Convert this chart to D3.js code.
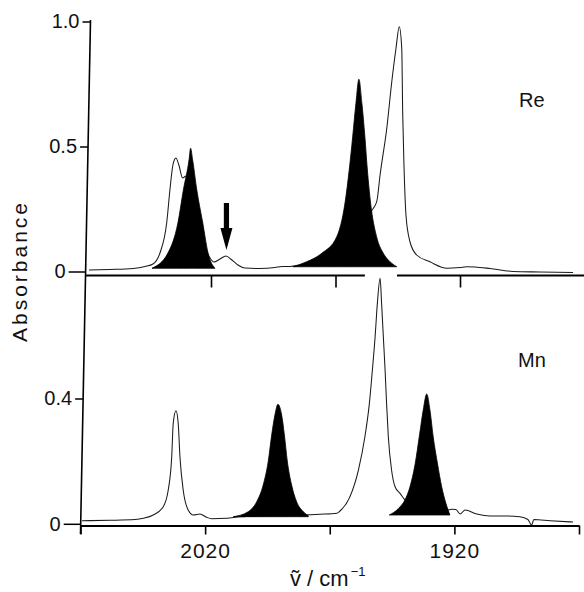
<!DOCTYPE html>
<html><head><meta charset="utf-8">
<script src="https://cdn.jsdelivr.net/npm/d3@7"></script>
<style>
html,body{margin:0;padding:0;background:#fff;}
svg{display:block;}
text{font-family:"Liberation Sans", Arial, Helvetica, sans-serif; fill:#111;}
</style></head><body>
<svg id="chart" width="584" height="592"></svg>
<script>
// ---- data (wavenumber / cm-1, absorbance) ----
const xTickValues = [2070, 2020, 1970, 1920, 1870];
const xTickLabeled = [2020, 1920];
const topXTickValues = [2020, 1970, 1920];
const reTickValues = [0, 0.5, 1.0];
const reTickLabels = ["0", "0.5", "1.0"];
const mnTickValues = [0, 0.4];
const mnTickLabels = ["0", "0.4"];
const panelLabels = ["Re", "Mn"];
const yLabel = "Absorbance";

const reSpectrum = [[2069,0.008],[2060.6,0.010],[2051.3,0.014],[2046.5,0.022],[2043.3,0.032],[2040.5,0.076],[2037.8,0.196],[2036.5,0.328],[2035.3,0.428],[2034.1,0.456],[2032.9,0.428],[2031.4,0.376],[2030.0,0.384],[2028.4,0.376],[2024.4,0.168],[2020.4,0.056],[2018.8,0.040],[2016.4,0.052],[2014.0,0.064],[2011.6,0.048],[2009.2,0.028],[2006.3,0.016],[2000.3,0.014],[1994.3,0.018],[1991.5,0.022],[1988.3,0.022],[1984.3,0.028],[1972.2,0.068],[1964.2,0.128],[1958.2,0.188],[1955.3,0.248],[1954.4,0.261],[1953.3,0.288],[1952.1,0.388],[1949.4,0.575],[1947.4,0.761],[1945.7,0.895],[1944.4,0.981],[1943.4,0.895],[1943.0,0.628],[1942.5,0.428],[1941.7,0.228],[1940.1,0.121],[1937.4,0.068],[1932.1,0.041],[1925.3,0.015],[1920.0,0.018],[1917.3,0.021],[1914.0,0.020],[1908.0,0.014],[1898.7,0.002],[1887.9,0.000],[1874.6,-0.002]];
const reBand1 = [[2043.7,0.015],[2037.3,0.076],[2033.3,0.196],[2031.1,0.328],[2028.8,0.45],[2028.2,0.495],[2027.4,0.45],[2025.7,0.328],[2023.3,0.196],[2021.2,0.076],[2018.4,0.015]];
const reBand2 = [[1987.0,0.021],[1981.6,0.041],[1975.5,0.075],[1969.5,0.141],[1966.2,0.275],[1964.5,0.408],[1963.1,0.541],[1961.8,0.675],[1960.6,0.771],[1959.4,0.675],[1958.2,0.541],[1957.2,0.408],[1955.9,0.275],[1953.5,0.141],[1950.8,0.075],[1948.1,0.041],[1945.4,0.021]];

const mnSpectrum = [[2069.4,0.0115],[2058.2,0.0128],[2048.1,0.0153],[2044.8,0.0192],[2040.8,0.0297],[2036.8,0.0562],[2034.8,0.1095],[2033.4,0.2158],[2032.8,0.3224],[2031.7,0.3626],[2030.8,0.3224],[2030.1,0.2158],[2028.8,0.1095],[2026.8,0.0456],[2024.7,0.0297],[2022.1,0.0329],[2019.4,0.0223],[2017.4,0.0179],[2011.3,0.0192],[2006.0,0.0243],[1998.0,0.0265],[1986.0,0.0281],[1979.9,0.0297],[1973.9,0.0319],[1967.2,0.0351],[1965.9,0.0425],[1961.9,0.0881],[1958.5,0.1733],[1955.9,0.2796],[1954.1,0.3862],[1952.9,0.4925],[1951.8,0.5988],[1950.9,0.7054],[1949.8,0.7852],[1949.2,0.7054],[1948.5,0.5988],[1947.8,0.4925],[1947.2,0.3862],[1946.5,0.2796],[1945.2,0.1733],[1943.8,0.1200],[1941.8,0.0989],[1939.8,0.0776],[1935.8,0.0616],[1929.8,0.0520],[1923.1,0.0456],[1921.1,0.0479],[1919.4,0.0472],[1917.7,0.0329],[1915.7,0.0456],[1911.0,0.0329],[1905.7,0.0265],[1899.0,0.0265],[1893.7,0.0243],[1890.5,0.0153],[1889.0,-0.0022],[1888.1,0.0153],[1881.6,0.0115],[1872.4,0.0073]];
const mnBand1 = [[2008.7,0.0243],[2002.7,0.0402],[1999.3,0.0721],[1996.7,0.1254],[1994.7,0.1998],[1993.3,0.2850],[1992.0,0.3489],[1990.8,0.3830],[1989.3,0.3489],[1988.2,0.2850],[1987.0,0.1998],[1985.3,0.1254],[1983.3,0.0721],[1980.6,0.0402],[1978.6,0.0274]];
const mnBand2 = [[1946.1,0.0297],[1942.5,0.050],[1939.8,0.078],[1937.8,0.120],[1935.8,0.190],[1933.9,0.290],[1932.5,0.3648],[1931.1,0.4159],[1929.8,0.3648],[1928.5,0.2796],[1926.8,0.1947],[1925.1,0.120],[1923.4,0.067],[1921.8,0.0297]];

const arrowMark = [2013.8, 0.276, 0.088]; // wavenumber, tail absorbance, tip absorbance
const topAxisGap = [1958.2, 1945.3];

// ---- layout ----
const svg = d3.select("#chart");
const xTop = d3.scaleLinear().domain([2070, 1870]).range([86.5, 584.5]);
const yTop = d3.scaleLinear().domain([0, 1]).range([272, 22]);
const xBot = d3.scaleLinear().domain([2070, 1870]).range([80.5, 579]);
const yBot = d3.scaleLinear().domain([0, 0.4]).range([524.3, 399]);
const FONT = '"Liberation Sans", Arial, Helvetica, sans-serif';

// slanted vertical axis (as in the scanned original)
const axTop = [90.5, 20], axBot = [80.5, 534];
const axisX = y => axTop[0] + (y - axTop[1]) * (axBot[0] - axTop[0]) / (axBot[1] - axTop[1]);

function lineGen(x, y) {
  return d3.line().x(d => x(d[0])).y(d => y(d[1])).curve(d3.curveMonotoneX);
}
function areaGen(x, y, data) {
  const base = Math.min(data[0][1], data[data.length - 1][1]);
  return d3.area().x(d => x(d[0])).y0(y(base)).y1(d => y(d[1])).curve(d3.curveMonotoneX);
}
function drawPanel(x, y, spectrum, bands) {
  svg.append("path").datum(spectrum).attr("d", lineGen(x, y))
    .attr("fill", "none").attr("stroke", "#1a1a1a").attr("stroke-width", 1.05);
  bands.forEach(b => {
    svg.append("path").datum(b).attr("d", areaGen(x, y, b))
      .attr("fill", "#000").attr("stroke", "#000").attr("stroke-width", 0.8).attr("stroke-linejoin", "round");
  });
}
drawPanel(xTop, yTop, reSpectrum, [reBand1, reBand2]);
drawPanel(xBot, yBot, mnSpectrum, [mnBand1, mnBand2]);

// y axis line
svg.append("line").attr("x1", axTop[0]).attr("y1", axTop[1]).attr("x2", axBot[0]).attr("y2", axBot[1])
  .attr("stroke", "#000").attr("stroke-width", 1.6);

function yAxis(scale, values, labels) {
  const g = svg.append("g")
    .call(d3.axisLeft(scale).tickValues(values).tickFormat((d, i) => labels[i]).tickSize(8).tickPadding(3));
  g.attr("font-family", FONT).attr("font-size", 20);
  g.select(".domain").remove();
  g.selectAll(".tick").attr("transform", d => `translate(${axisX(scale(d))},${scale(d)})`);
  g.selectAll(".tick line").attr("x2", d => d === 0 ? -17 : -8).attr("stroke", "#000").attr("stroke-width", 1.5);
  g.selectAll(".tick text").attr("x", d => (d === 0 ? -17 : -8) - 3).attr("fill", "#111");
}
yAxis(yTop, reTickValues, reTickLabels);
yAxis(yBot, mnTickValues, mnTickLabels);

// top x axis (broken where the Mn band pokes through)
const topAxisY = 275.5;
const gTop = svg.append("g").attr("transform", `translate(0,${topAxisY})`)
  .call(d3.axisBottom(xTop).tickValues(topXTickValues).tickSize(12).tickFormat(""));
gTop.select(".domain").remove();
gTop.selectAll(".tick line").attr("stroke", "#000").attr("stroke-width", 1.6);
svg.append("line").attr("x1", axisX(topAxisY)).attr("x2", xTop(topAxisGap[0]))
  .attr("y1", topAxisY).attr("y2", topAxisY).attr("stroke", "#000").attr("stroke-width", 2);
svg.append("line").attr("x1", xTop(topAxisGap[1])).attr("x2", 584)
  .attr("y1", topAxisY).attr("y2", topAxisY).attr("stroke", "#000").attr("stroke-width", 2);

// bottom x axis
const botAxisY = 525.5;
const gBot = svg.append("g").attr("transform", `translate(0,${botAxisY})`)
  .call(d3.axisBottom(xBot).tickValues(xTickValues).tickSize(9).tickSizeOuter(0)
    .tickFormat(d => xTickLabeled.includes(d) ? String(d) : ""));
gBot.attr("font-family", FONT).attr("font-size", 21);
gBot.select(".domain").attr("stroke", "#000").attr("stroke-width", 2);
gBot.selectAll(".tick line").attr("stroke", "#000").attr("stroke-width", 1.6);
gBot.selectAll(".tick text").attr("y", 558 - botAxisY).attr("dy", 0).attr("fill", "#111").attr("letter-spacing", "1px");

// arrow marking a weak band
{
  const cx = xTop(arrowMark[0]), y1 = yTop(arrowMark[1]), y2 = yTop(arrowMark[2]);
  const headH = 22, sw = 2.6, hw = 6;
  const p = d3.path();
  p.moveTo(cx - sw, y1); p.lineTo(cx + sw, y1); p.lineTo(cx + sw, y2 - headH);
  p.lineTo(cx + hw, y2 - headH); p.lineTo(cx, y2); p.lineTo(cx - hw, y2 - headH);
  p.lineTo(cx - sw, y2 - headH); p.closePath();
  svg.append("path").attr("d", p.toString()).attr("fill", "#000");
}

// panel labels
svg.append("text").attr("x", 519).attr("y", 107).attr("font-size", 20).text(panelLabels[0]);
svg.append("text").attr("x", 518).attr("y", 367).attr("font-size", 20).text(panelLabels[1]);

// y label
svg.append("text").attr("transform", "translate(27,271) rotate(-90)").attr("text-anchor", "middle")
  .attr("font-size", 21).attr("letter-spacing", "3px").text(yLabel);

// x label  ṽ / cm⁻¹
const xl = svg.append("text").attr("x", 290).attr("y", 586).attr("font-size", 22);
xl.append("tspan").text("\u1E7D / cm");
xl.append("tspan").attr("dy", -10).attr("dx", 2).attr("font-size", 13).text("\u22121");
</script>
</body></html>
